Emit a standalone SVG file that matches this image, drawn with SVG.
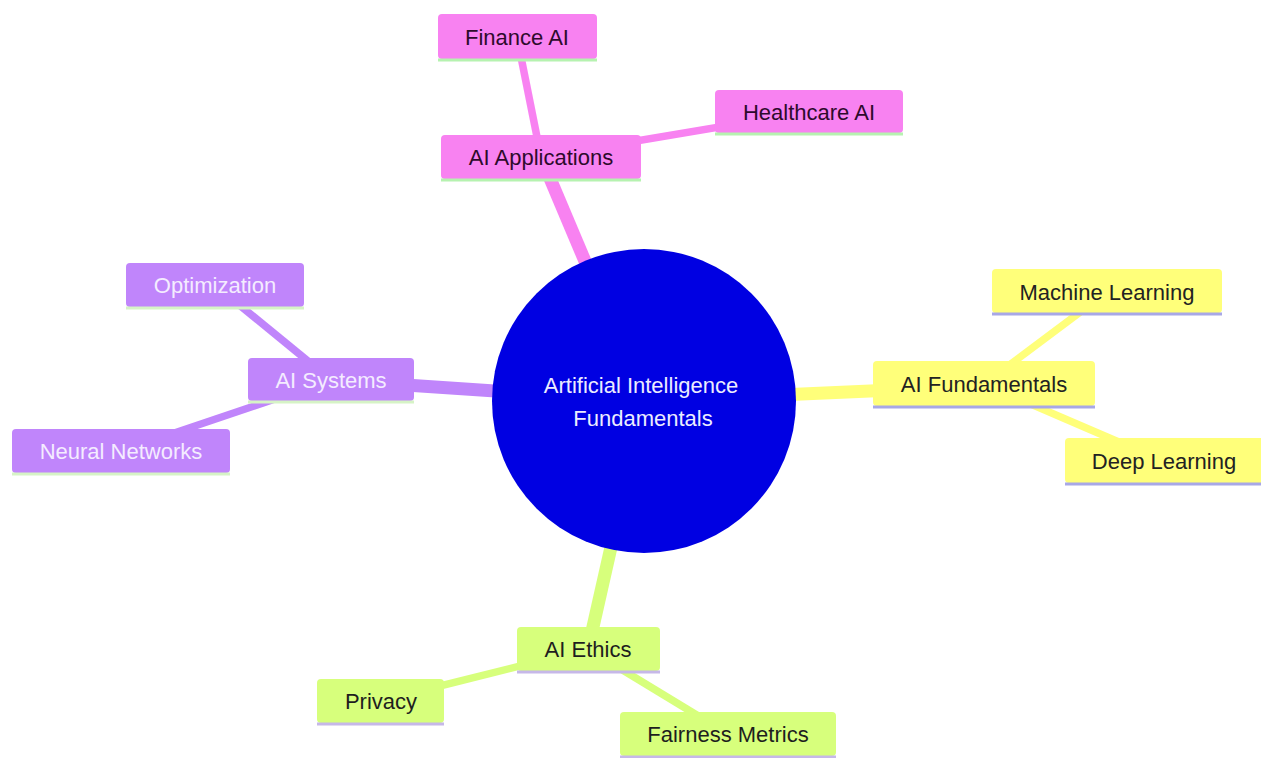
<svg xmlns="http://www.w3.org/2000/svg" width="1261" height="758" viewBox="0 0 1261 758">
  <style>
    text { font-family: "Liberation Sans", Arial, sans-serif; font-size: 22px; text-anchor: middle; dominant-baseline: central; }
    .pink rect { fill: #f882f1; }
    .pink line { stroke: #b6f2b0; }
    .pink text { fill: #2e0a2c; }
    .purple rect { fill: #c085fb; }
    .purple line { stroke: #d6f3c6; }
    .purple text { fill: #f4ecff; }
    .yellow rect { fill: #ffff7a; }
    .yellow line { stroke: #a8a8e6; }
    .yellow text { fill: #222222; }
    .lime rect { fill: #d7ff7c; }
    .lime line { stroke: #c6b8e8; }
    .lime text { fill: #1e1e1e; }
    .node line { stroke-width: 3; }
    .e0 { stroke-width: 13; stroke-linecap: butt; }
    .e1 { stroke-width: 7.5; stroke-linecap: butt; }
  </style>
  <rect width="1261" height="758" fill="#ffffff"/>
  <g id="connectors">
    <line class="e0" x1="644" y1="401" x2="541" y2="157" stroke="#f882f1"/>
    <line class="e1" x1="541" y1="157" x2="517" y2="37" stroke="#f882f1"/>
    <line class="e1" x1="541" y1="157" x2="809" y2="112" stroke="#f882f1"/>
    <line class="e0" x1="644" y1="401" x2="331" y2="380" stroke="#c085fb"/>
    <line class="e1" x1="331" y1="380" x2="215" y2="285" stroke="#c085fb"/>
    <line class="e1" x1="331" y1="380" x2="121" y2="451" stroke="#c085fb"/>
    <line class="e0" x1="644" y1="401" x2="984" y2="386" stroke="#ffff7a"/>
    <line class="e1" x1="984" y1="384" x2="1107" y2="292" stroke="#ffff7a"/>
    <line class="e1" x1="984" y1="384" x2="1163" y2="461" stroke="#ffff7a"/>
    <line class="e0" x1="644" y1="401" x2="588" y2="649" stroke="#d7ff7c"/>
    <line class="e1" x1="588" y1="649" x2="380" y2="701" stroke="#d7ff7c"/>
    <line class="e1" x1="588" y1="649" x2="728" y2="734" stroke="#d7ff7c"/>
  </g>
  <g id="root">
    <circle cx="644" cy="401" r="152" fill="#0000e2"/>
    <text x="641" y="385" fill="#ececff">Artificial Intelligence</text>
    <text x="643" y="418" fill="#ececff">Fundamentals</text>
  </g>
  <g id="ai-applications" class="node pink">
    <rect x="441" y="135" width="200" height="44" rx="4"/>
    <line x1="441" y1="180" x2="641" y2="180"/>
    <text x="541" y="157">AI Applications</text>
  </g>
  <g id="finance-ai" class="node pink">
    <rect x="438" y="14" width="159" height="45" rx="4"/>
    <line x1="438" y1="60" x2="597" y2="60"/>
    <text x="517" y="37">Finance AI</text>
  </g>
  <g id="healthcare-ai" class="node pink">
    <rect x="715" y="90" width="188" height="43" rx="4"/>
    <line x1="715" y1="134" x2="903" y2="134"/>
    <text x="809" y="112">Healthcare AI</text>
  </g>
  <g id="ai-systems" class="node purple">
    <rect x="248" y="358" width="166" height="43" rx="4"/>
    <line x1="248" y1="402" x2="414" y2="402"/>
    <text x="331" y="380">AI Systems</text>
  </g>
  <g id="optimization" class="node purple">
    <rect x="126" y="263" width="178" height="44" rx="4"/>
    <line x1="126" y1="308" x2="304" y2="308"/>
    <text x="215" y="285">Optimization</text>
  </g>
  <g id="neural-networks" class="node purple">
    <rect x="12" y="429" width="218" height="44" rx="4"/>
    <line x1="12" y1="474" x2="230" y2="474"/>
    <text x="121" y="451">Neural Networks</text>
  </g>
  <g id="ai-fundamentals" class="node yellow">
    <rect x="873" y="361" width="222" height="45" rx="4"/>
    <line x1="873" y1="407" x2="1095" y2="407"/>
    <text x="984" y="384">AI Fundamentals</text>
  </g>
  <g id="machine-learning" class="node yellow">
    <rect x="992" y="269" width="230" height="44" rx="4"/>
    <line x1="992" y1="314" x2="1222" y2="314"/>
    <text x="1107" y="292">Machine Learning</text>
  </g>
  <g id="deep-learning" class="node yellow">
    <rect x="1065" y="438" width="200" height="45" rx="4"/>
    <line x1="1065" y1="484" x2="1261" y2="484"/>
    <text x="1164" y="461">Deep Learning</text>
  </g>
  <g id="ai-ethics" class="node lime">
    <rect x="517" y="627" width="143" height="44" rx="4"/>
    <line x1="517" y1="672" x2="660" y2="672"/>
    <text x="588" y="649">AI Ethics</text>
  </g>
  <g id="privacy" class="node lime">
    <rect x="317" y="679" width="127" height="44" rx="4"/>
    <line x1="317" y1="724" x2="444" y2="724"/>
    <text x="381" y="701">Privacy</text>
  </g>
  <g id="fairness-metrics" class="node lime">
    <rect x="620" y="712" width="216" height="44" rx="4"/>
    <line x1="620" y1="757" x2="836" y2="757"/>
    <text x="728" y="734">Fairness Metrics</text>
  </g>
</svg>
